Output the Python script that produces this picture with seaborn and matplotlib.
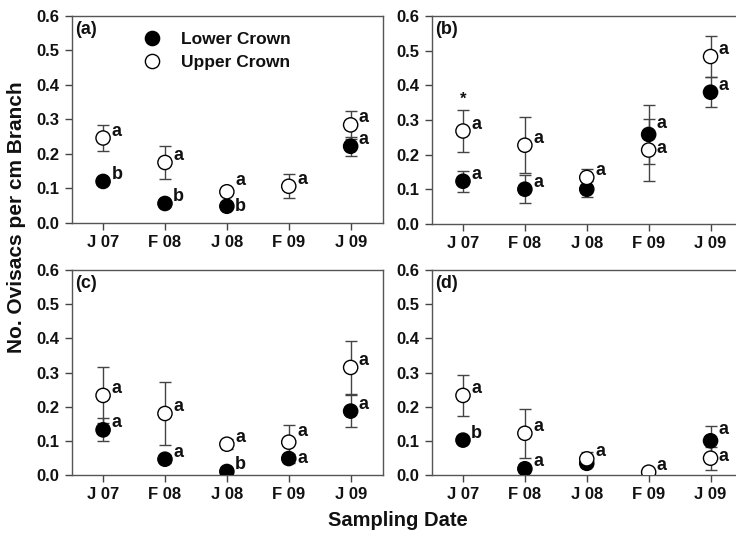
import numpy as np
import pandas as pd
import seaborn as sns
import matplotlib.pyplot as plt

# Datas de amostragem
datas = ["J 07", "F 08", "J 08", "F 09", "J 09"]
paineis = ["(a)", "(b)", "(c)", "(d)"]

# Medias e erros (copa inferior / copa superior), um por painel
inferior_media = [
    [0.120, 0.056, 0.048, np.nan, 0.222],
    [0.123, 0.100, 0.100, 0.258, 0.380],
    [0.132, 0.046, 0.010, 0.048, 0.187],
    [0.102, 0.018, 0.034, np.nan, 0.100],
]
inferior_erro = [
    [0.0, 0.0, 0.0, 0.0, 0.028],
    [0.030, 0.040, 0.023, 0.086, 0.043],
    [0.034, 0.012, 0.0, 0.014, 0.046],
    [0.0, 0.0, 0.0, 0.0, 0.044],
]
superior_media = [
    [0.246, 0.175, 0.090, 0.106, 0.284],
    [0.268, 0.227, 0.134, 0.213, 0.483],
    [0.233, 0.180, 0.090, 0.096, 0.315],
    [0.233, 0.122, 0.047, 0.008, 0.049],
]
superior_erro = [
    [0.037, 0.047, 0.0, 0.035, 0.041],
    [0.062, 0.080, 0.024, 0.090, 0.060],
    [0.082, 0.092, 0.015, 0.050, 0.079],
    [0.060, 0.071, 0.021, 0.0, 0.034],
]
# Letras de significancia
letras_inferior = [
    ["b", "b", "b", "", "a"],
    ["a", "a", "", "a", "a"],
    ["a", "a", "b", "a", "a"],
    ["b", "a", "", "", "a"],
]
letras_superior = [
    ["a", "a", "a", "a", "a"],
    ["a", "a", "a", "a", "a"],
    ["a", "a", "a", "a", "a"],
    ["a", "a", "a", "a", "a"],
]

sns.set_style("ticks")
plt.rcParams["font.family"] = ["Liberation Sans", "DejaVu Sans"]
plt.rcParams["font.weight"] = "bold"
plt.rcParams["text.color"] = "#111111"
plt.rcParams["xtick.labelcolor"] = "#111111"
plt.rcParams["ytick.labelcolor"] = "#111111"

fig = plt.figure(figsize=(7.36, 5.33), dpi=100)

# Posicoes dos paineis (o lado direito da figura original esta cortado)
posicoes = [
    [0.098, 0.582, 0.423, 0.388],
    [0.587, 0.580, 0.423, 0.390],
    [0.098, 0.109, 0.423, 0.384],
    [0.587, 0.109, 0.423, 0.384],
]

x = np.arange(len(datas))
cor_linha = "#444444"

for i in range(4):
    ax = fig.add_axes(posicoes[i])
    df = pd.DataFrame({
        "x": np.concatenate([x, x]),
        "valor": inferior_media[i] + superior_media[i],
        "copa": ["Lower Crown"] * 5 + ["Upper Crown"] * 5,
    })

    # Barras de erro
    ax.errorbar(x, superior_media[i], yerr=superior_erro[i], fmt="none",
                ecolor=cor_linha, elinewidth=1, capsize=4.3, capthick=1, zorder=1)
    ax.errorbar(x, inferior_media[i], yerr=inferior_erro[i], fmt="none",
                ecolor=cor_linha, elinewidth=1, capsize=4.3, capthick=1, zorder=1)

    sns.scatterplot(data=df, x="x", y="valor", hue="copa",
                    palette={"Lower Crown": "black", "Upper Crown": "white"},
                    edgecolor="black", linewidth=1, s=105, ax=ax, zorder=3,
                    legend=(i == 0))

    # Letras ao lado dos pontos (afasta as letras quando os pontos estao perto)
    for j in range(5):
        li, ls = inferior_media[i][j], superior_media[i][j]
        tem_inf = bool(letras_inferior[i][j]) and not np.isnan(li)
        tem_sup = bool(letras_superior[i][j])
        off_inf, off_sup = 5, 5
        if tem_inf and tem_sup and abs(li - ls) < 0.06:
            if ls >= li:
                off_sup, off_inf = 8, 0
            else:
                off_inf, off_sup = 8, 1
        if tem_inf:
            ax.annotate(letras_inferior[i][j], (x[j], li),
                        xytext=(6, off_inf), textcoords="offset points",
                        ha="left", va="center", fontsize=13, fontweight="bold")
        if tem_sup:
            ax.annotate(letras_superior[i][j], (x[j], ls),
                        xytext=(6, off_sup), textcoords="offset points",
                        ha="left", va="center", fontsize=13, fontweight="bold")

    if i == 1:
        ax.text(x[0], 0.36, "*", ha="center", va="center", fontsize=12, fontweight="bold")

    ax.text(0.01, 0.975, paineis[i], transform=ax.transAxes, ha="left", va="top",
            fontsize=13, fontweight="bold")

    ax.set_xlim(-0.5, 4.53)
    ax.set_ylim(0, 0.6)
    ax.set_xticks(x)
    ax.set_xticklabels(datas)
    ax.set_yticks(np.arange(0, 0.61, 0.1))
    ax.set_yticklabels([f"{v:.1f}" for v in np.arange(0, 0.61, 0.1)])
    ax.tick_params(axis="both", labelsize=12, length=5, width=1, color=cor_linha, pad=4)
    for lab in ax.get_xticklabels() + ax.get_yticklabels():
        lab.set_fontweight("bold")
    for sp in ax.spines.values():
        sp.set_visible(True)
        sp.set_color("#555555")
        sp.set_linewidth(1)
    ax.set_xlabel("")
    ax.set_ylabel("")

    if i == 0:
        ax.legend(title=None, loc="upper left", bbox_to_anchor=(0.15, 1.0),
                  frameon=False, handletextpad=0.7, labelspacing=0.45,
                  prop={"weight": "bold", "size": 12.5})

fig.text(0.023, 0.592, "No. Ovisacs per cm Branch", rotation=90, ha="center",
         va="center", fontsize=15, fontweight="bold")
fig.text(0.54, 0.024, "Sampling Date", ha="center", va="center",
         fontsize=14.5, fontweight="bold")

plt.savefig("out.png", dpi=100)
